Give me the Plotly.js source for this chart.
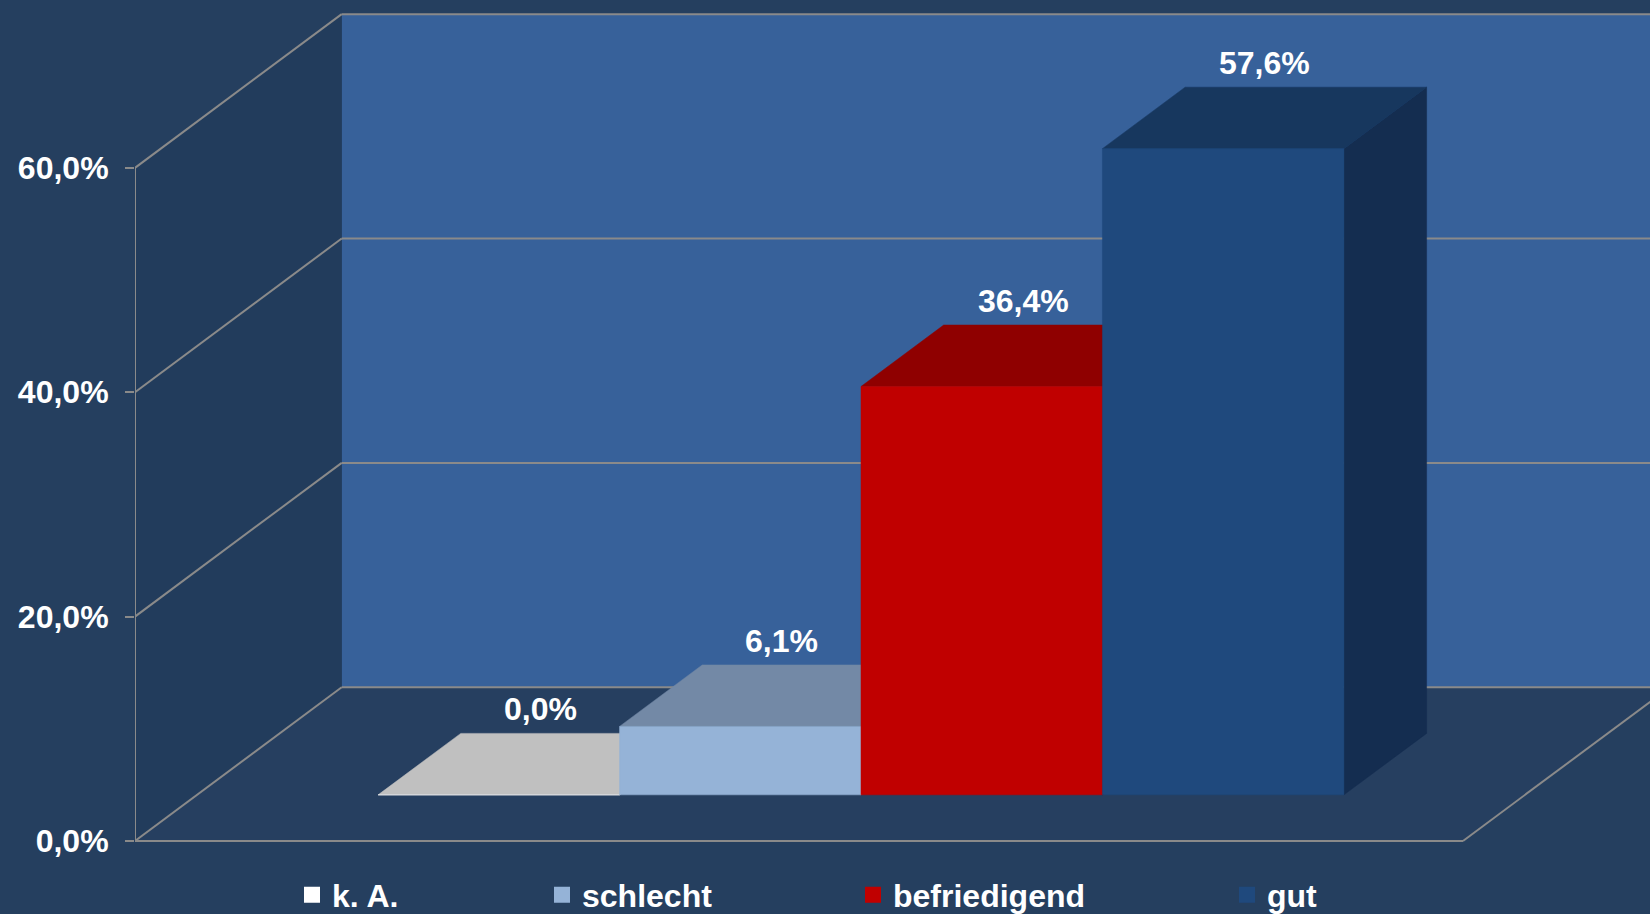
<!DOCTYPE html>
<html>
<head>
<meta charset="utf-8">
<script src="https://cdn.plot.ly/plotly-3.0.1.min.js"></script>
<style>html,body{margin:0;padding:0;background:#253f5f;}#chart{width:1650px;height:914px;}</style>
</head>
<body>
<div id="chart"></div>
<script>
// ---- data ----
const categories = ['k. A.', 'schlecht', 'befriedigend', 'gut'];
const values = [0.0, 6.1, 36.4, 57.6];
const yTicks = [0, 20, 40, 60];
const yTickLabels = ['0,0%', '20,0%', '40,0%', '60,0%'];

// ---- styles ----
const frontColors = ['#ffffff', '#95b3d7', '#c00000', '#1f497d'];
const topColors = ['#c0c0c0', '#7389a6', '#8f0000', '#17375e'];
const sideColors = ['#a8a8a8', '#667b95', '#7a0000', '#142d50'];
const legendCenters = [312, 562, 873, 1247];

const FONT = 'Liberation Sans, Arial, sans-serif';
const GRID = '#8a8a8a';
const FS = 32;

// oblique projection geometry (x in px, y in percent)
const FX0 = 135, FW = 1328, DX = 206.7, DZY = 13.7;
const Z0 = 0.3, Z1 = 0.7;
const n = values.length;
const bw = FW / (n + 1.5);
const yMax = yTicks[yTicks.length - 1];

function P(x, y, z) { return [x + z * DX, y + z * DZY]; }
function poly(pts) {
  const xs = pts.map(p => p[0]); const ys = pts.map(p => p[1]);
  xs.push(xs[0]); ys.push(ys[0]);
  return {xs, ys};
}
function fmt(v) { return v.toFixed(1).replace('.', ',') + '%'; }

const traces = [];
const annotations = [];
for (let i = 0; i < n; i++) {
  const xl = FX0 + 0.75 * bw + i * bw, xr = xl + bw, v = values[i];
  const side = poly([P(xr, 0, Z0), P(xr, 0, Z1), P(xr, v, Z1), P(xr, v, Z0)]);
  const top = poly([P(xl, v, Z0), P(xr, v, Z0), P(xr, v, Z1), P(xl, v, Z1)]);
  const front = poly([P(xl, 0, Z0), P(xr, 0, Z0), P(xr, v, Z0), P(xl, v, Z0)]);
  [[side, sideColors[i]], [top, topColors[i]], [front, frontColors[i]]].forEach(([f, c]) => {
    traces.push({type: 'scatter', mode: 'lines', x: f.xs, y: f.ys, fill: 'toself',
      fillcolor: c, line: {color: c, width: 0.5}, showlegend: false, hoverinfo: 'skip', name: categories[i]});
  });
  // legend entry
  traces.push({type: 'scatter', mode: 'markers', x: [null], y: [null], name: categories[i],
    marker: {symbol: 'square', size: 16, color: frontColors[i]}, showlegend: true,
    legend: i === 0 ? 'legend' : 'legend' + (i + 1)});
  const lab = P(xl + bw / 2, v, (Z0 + Z1) / 2);
  annotations.push({x: lab[0], y: v + Z1 * DZY, xref: 'x', yref: 'y', yanchor: 'bottom', yshift: 4,
    text: fmt(v), showarrow: false,
    font: {family: FONT, size: FS, color: '#ffffff', weight: 'bold'}});
}

// walls, floor and grid as layout shapes
function pathOf(pts) { return 'M' + pts.map(p => p[0] + ',' + p[1]).join('L') + 'Z'; }
const shapes = [];
shapes.push({type: 'path', xref: 'x', yref: 'y', layer: 'below', line: {width: 0}, fillcolor: '#37619a',
  path: pathOf([P(FX0, 0, 1), P(FX0 + FW, 0, 1), P(FX0 + FW, yMax, 1), P(FX0, yMax, 1)])});
shapes.push({type: 'path', xref: 'x', yref: 'y', layer: 'below', line: {width: 0}, fillcolor: '#223c5c',
  path: pathOf([P(FX0, 0, 0), P(FX0, yMax, 0), P(FX0, yMax, 1), P(FX0, 0, 1)])});
shapes.push({type: 'path', xref: 'x', yref: 'y', layer: 'below', line: {width: 0}, fillcolor: '#263f60',
  path: pathOf([P(FX0, 0, 0), P(FX0 + FW, 0, 0), P(FX0 + FW, 0, 1), P(FX0, 0, 1)])});
function seg(a, b) {
  shapes.push({type: 'line', xref: 'x', yref: 'y', layer: 'below', x0: a[0], y0: a[1], x1: b[0], y1: b[1],
    line: {color: GRID, width: 2}});
}
yTicks.forEach(t => {
  seg(P(FX0, t, 0), P(FX0, t, 1));
  seg(P(FX0, t, 1), P(FX0 + FW, t, 1));
});
seg(P(FX0, 0, 0), P(FX0 + FW, 0, 0));
seg(P(FX0 + FW, 0, 0), P(FX0 + FW, 0, 1));
seg(P(FX0, 0, 0), P(FX0, yMax, 0));

const layout = {
  width: 1650, height: 914,
  margin: {l: FX0, r: 0, t: 0, b: 0, autoexpand: false},
  paper_bgcolor: '#253f5f', plot_bgcolor: '#253f5f',
  font: {family: FONT, color: '#ffffff'},
  xaxis: {range: [FX0, 1650], visible: false, fixedrange: true},
  yaxis: {range: [-6.51, 74.96], fixedrange: true, tickmode: 'array', tickvals: yTicks, ticktext: yTickLabels,
    showgrid: false, zeroline: false, showline: false, ticks: 'outside', ticklen: 9, tickwidth: 2,
    tickcolor: GRID, ticklabelstandoff: 10, automargin: false,
    tickfont: {family: FONT, size: FS, color: '#ffffff', weight: 'bold'}},
  shapes: shapes,
  annotations: annotations,
  hovermode: false,
  showlegend: true
};
legendCenters.forEach((cx, i) => {
  const key = i === 0 ? 'legend' : 'legend' + (i + 1);
  layout[key] = {x: (cx - 20) / 1650, y: 1 - 895 / 914, xref: 'container', yref: 'container',
    xanchor: 'left', yanchor: 'middle', orientation: 'h', bgcolor: 'rgba(0,0,0,0)', borderwidth: 0,
    font: {family: FONT, size: FS, color: '#ffffff', weight: 'bold'}, itemsizing: 'trace'};
});

Plotly.newPlot('chart', traces, layout, {displayModeBar: false, staticPlot: true});
</script>
</body>
</html>
